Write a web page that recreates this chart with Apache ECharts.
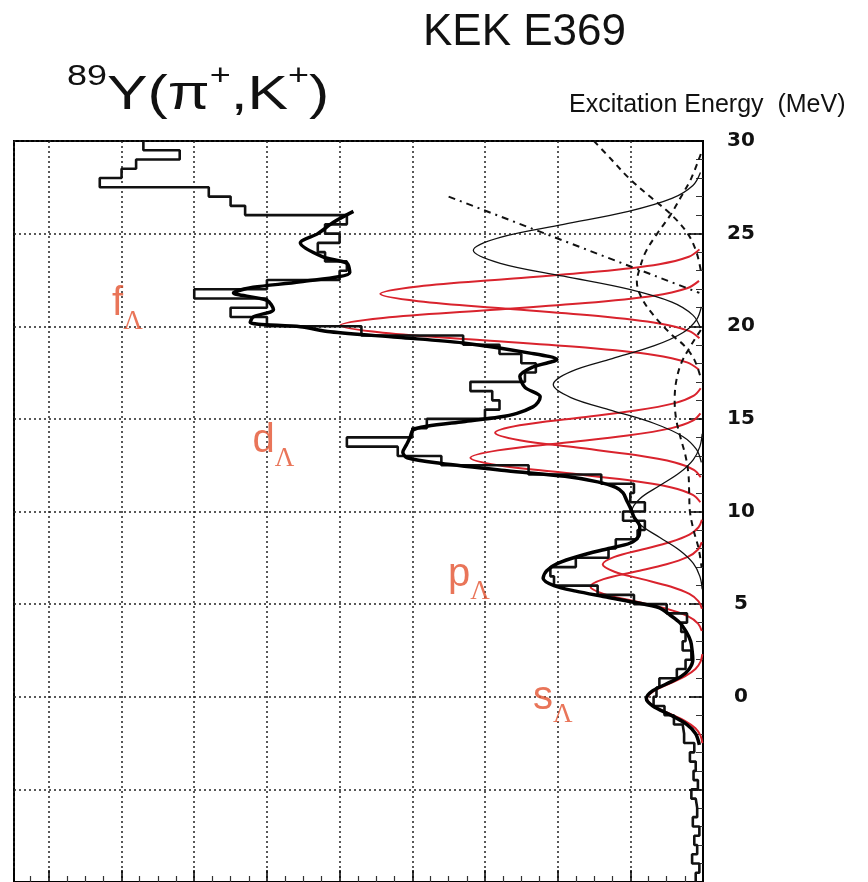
<!DOCTYPE html>
<html>
<head>
<meta charset="utf-8">
<script src="https://cdn.jsdelivr.net/npm/echarts@6/dist/echarts.min.js"></script>
<style>
  html, body { margin: 0; padding: 0; background: #fff; }
  #chart { width: 868px; height: 882px; }
</style>
</head>
<body>
<div id="chart"></div>
<script>
// ---- 89Y(pi+,K+) hypernuclear spectrum, drawn sideways: energy up, counts to the left ----

// energy axis tick labels (MeV)
const energyTicks = [0, 5, 10, 15, 20, 25, 30];

// histogram: 0.5 MeV bins starting at -10 MeV
const binLow = -10;
const binWidth = 0.5;
const histCounts = [
  1.0, 0.5, 1.5, 0.8, 1.2, 0.5, 1.4, 0.8, 1.0, 1.6,
  0.7, 1.3, 1.0, 1.8, 1.2, 2.6, 2.8, 4.0, 5.3, 6.8,
  6.4, 6.0, 3.6, 2.4, 1.6, 2.8, 2.4, 3.0, 2.2, 5.0,
  9.5, 14.5, 20.5, 21.0, 17.5, 13.0, 12.0, 9.0, 8.0, 11.0,
  8.0, 10.0, 9.5, 14.0, 24.0, 36.0, 42.0, 49.0, 40.0, 38.0,
  30.0, 28.0, 29.0, 32.0, 24.5, 23.0, 25.0, 28.0, 33.0, 47.0,
  60.0, 65.0, 60.0, 70.0, 60.0, 50.0, 49.0, 52.0, 53.0, 50.0,
  52.0, 49.0, 63.0, 65.0, 68.0, 83.0, 80.0, 78.0, 72.0, 77.0
];

// total fit: [energy, counts]
const fitTotal = [
  [-2.6, 0.5], [-2.0, 1.0], [-1.5, 2.2], [-1.0, 4.4], [-0.5, 6.9], [-0.1, 7.8],
  [0.3, 7.0], [0.7, 5.0], [1.1, 3.0], [1.5, 1.9], [2.0, 1.4], [2.5, 1.5],
  [3.0, 1.7], [3.5, 2.3], [4.0, 3.2], [4.4, 4.5], [4.8, 6.0], [5.1, 9.5],
  [5.4, 13.5], [5.7, 17.5], [6.0, 20.5], [6.4, 22.0], [6.8, 21.5], [7.2, 20.0],
  [7.6, 17.0], [8.0, 13.0], [8.3, 10.0], [8.7, 8.8], [9.2, 8.7], [9.7, 9.5],
  [10.2, 10.0], [10.6, 10.5], [11.0, 11.0], [11.3, 12.0], [11.6, 14.5], [11.9, 19.0],
  [12.2, 27.0], [12.6, 36.2], [12.9, 40.7], [13.2, 41.3], [13.6, 40.8], [14.0, 40.3],
  [14.4, 39.9], [14.6, 38.0], [14.85, 33.0], [15.1, 28.0], [15.3, 25.6], [15.65, 23.4],
  [15.9, 22.7], [16.2, 22.4], [16.7, 24.5], [17.3, 25.2], [17.8, 23.4], [18.2, 20.1],
  [18.55, 23.8], [19.1, 33.0], [19.4, 42.0], [19.7, 51.3], [19.97, 55.4], [20.2, 62.3],
  [20.5, 61.9], [20.9, 59.1], [21.4, 60.0], [21.8, 64.6], [22.1, 61.9], [22.4, 55.4],
  [22.9, 48.6], [23.4, 49.0], [23.75, 52.3], [24.5, 55.4], [25.0, 53.0], [25.6, 50.9],
  [26.2, 48.1]
];

// Lambda single-particle peaks (s, p, d, f): [energy, counts]
const peakS = [
  [-2.5, 0.09], [-2.1, 0.34], [-1.7, 1.04], [-1.3, 2.5], [-0.9, 4.67], [-0.5, 6.8], [-0.1, 7.7],
  [0.3, 6.8], [0.7, 4.67], [1.1, 2.5], [1.5, 1.04], [1.9, 0.34], [2.3, 0.09]
];
const peakP1 = [
  [3.55, 0.17], [3.95, 0.68], [4.35, 2.1], [4.75, 5.03], [5.15, 9.4], [5.55, 13.68], [5.95, 15.5],
  [6.35, 13.68], [6.75, 9.4], [7.15, 5.03], [7.55, 2.1], [7.95, 0.68], [8.35, 0.17]
];
const peakP2 = [
  [4.75, 0.15], [5.15, 0.61], [5.55, 1.87], [5.95, 4.48], [6.35, 8.37], [6.75, 12.18], [7.15, 13.8],
  [7.55, 12.18], [7.95, 8.37], [8.35, 4.48], [8.75, 1.87], [9.15, 0.61], [9.55, 0.15]
];
const peakD1 = [
  [10.5, 0.36], [10.9, 1.4], [11.3, 4.33], [11.7, 10.39], [12.1, 19.41], [12.5, 28.24], [12.9, 32.0],
  [13.3, 28.24], [13.7, 19.41], [14.1, 10.39], [14.5, 4.33], [14.9, 1.4], [15.3, 0.36]
];
const peakD2 = [
  [11.85, 0.32], [12.25, 1.26], [12.65, 3.87], [13.05, 9.29], [13.45, 17.35], [13.85, 25.24], [14.25, 28.6],
  [14.65, 25.24], [15.05, 17.35], [15.45, 9.29], [15.85, 3.87], [16.25, 1.26], [16.65, 0.32]
];
const peakF1 = [
  [17.65, 0.55], [18.05, 2.19], [18.45, 6.75], [18.85, 16.2], [19.25, 30.26], [19.65, 44.04], [20.05, 49.9],
  [20.45, 44.04], [20.85, 30.26], [21.25, 16.2], [21.65, 6.75], [22.05, 2.19], [22.45, 0.55]
];
const peakF2 = [
  [19.35, 0.49], [19.75, 1.95], [20.15, 6.01], [20.55, 14.42], [20.95, 26.93], [21.35, 39.18], [21.75, 44.4],
  [22.15, 39.18], [22.55, 26.93], [22.95, 14.42], [23.35, 6.01], [23.75, 1.95], [24.15, 0.49]
];

// broader components (thin black)
const broadG1 = [
  [19.9, 0.35], [20.6, 1.39], [21.3, 4.28], [22.0, 10.26], [22.7, 19.17], [23.4, 27.89], [24.1, 31.6],
  [24.8, 27.89], [25.5, 19.17], [26.2, 10.26], [26.9, 4.28], [27.6, 1.39], [28.3, 0.35]
];
const broadG2 = [
  [12.65, 0.23], [13.35, 0.9], [14.05, 2.79], [14.75, 6.69], [15.45, 12.49], [16.15, 18.18], [16.85, 20.6],
  [17.55, 18.18], [18.25, 12.49], [18.95, 6.69], [19.65, 2.79], [20.35, 0.9], [21.05, 0.23]
];
const broadG3 = [
  [5.8, 0.11], [6.5, 0.43], [7.2, 1.33], [7.9, 3.18], [8.6, 5.94], [9.3, 8.65], [10.0, 9.8],
  [10.7, 8.65], [11.4, 5.94], [12.1, 3.18], [12.8, 1.33], [13.5, 0.43], [14.2, 0.11]
];

// dashed components and dash-dotted background
const dashUpper = [
  [30.0, 15.0], [29.0, 12.6], [28.0, 10.2], [27.0, 7.3], [26.0, 4.3], [25.0, 2.1], [24.0, 0.9], [23.0, 0.3]
];
const dashMid = [
  [29.3, 0.3], [28.0, 1.6], [27.0, 3.0], [26.0, 4.5], [25.0, 6.3], [24.0, 7.9], [23.0, 8.8],
  [22.4, 9.1], [21.5, 8.4], [20.5, 6.6], [19.5, 4.2], [19.0, 2.7], [18.2, 1.2], [17.2, 0.3]
];
const dashLow = [
  [19.8, 0.3], [19.0, 1.6], [18.0, 3.0], [17.0, 3.7], [16.0, 3.9], [15.0, 3.7], [14.0, 3.1],
  [13.0, 2.4], [12.0, 2.0], [11.0, 1.9], [10.0, 1.8], [9.0, 1.3], [8.0, 0.6], [7.0, 0.2]
];
const background = [[27.0, 35.0], [21.8, 0.5]];

// shell labels: [counts, energy, orbital letter]
const shellTags = [
  [81.3, 20.9, 'f'],
  [62.0, 13.5, 'd'],
  [35.1, 6.3, 'p'],
  [23.4, -0.35, 's']
];

// ---- build series ----
const RED = '#d9232d';
const LABEL_RED = '#e4532f';

function toXY(pts) { return pts.map(p => [p[1], p[0]]); }

function curve(pts, color, width, type, z, smooth) {
  return {
    type: 'line', data: toXY(pts), smooth: smooth === undefined ? 0.35 : smooth,
    showSymbol: false, silent: true, z: z,
    lineStyle: { color: color, width: width, type: type || 'solid' }
  };
}

const histPath = [];
histCounts.forEach((c, i) => {
  const lo = binLow + i * binWidth;
  histPath.push([c, lo], [c, lo + binWidth]);
});

const series = [];
[peakS, peakP1, peakP2, peakD1, peakD2, peakF1, peakF2].forEach(p => series.push(curve(p, RED, 2, 'solid', 3)));
[broadG1, broadG2, broadG3].forEach(p => series.push(curve(p, '#111', 1.3, 'solid', 3)));
[dashUpper, dashMid, dashLow].forEach(p => series.push(curve(p, '#111', 2, [6, 5], 3)));
series.push(curve(background, '#111', 2, [7, 5, 2, 5], 3, false));
series.push({
  type: 'line', data: histPath, showSymbol: false, silent: true, z: 4,
  lineStyle: { color: '#111', width: 2.6 }
});
series.push(curve(fitTotal, '#000', 3.5, 'solid', 5, 0.3));
series.push({
  type: 'scatter', symbolSize: 0, silent: true, z: 6,
  data: shellTags.map(t => ({ value: [t[0], t[1]], name: t[2] })),
  label: {
    show: true, position: 'right', distance: 0,
    formatter: p => '{m|' + p.name + '}{s|Λ}',
    rich: {
      m: { fontFamily: 'Liberation Sans', fontSize: 40, color: LABEL_RED, verticalAlign: 'top', lineHeight: 51 },
      s: { fontFamily: 'Liberation Serif', fontSize: 27, color: LABEL_RED, verticalAlign: 'bottom', lineHeight: 27 }
    }
  }
});

const chart = echarts.init(document.getElementById('chart'), null, { renderer: 'canvas' });
chart.setOption({
  animation: false,
  backgroundColor: '#fff',
  title: [
    {
      text: 'KEK E369', left: 418, top: 6,
      textStyle: { fontFamily: 'Liberation Sans', fontSize: 44, fontWeight: 'normal', color: '#111' }
    },
    {
      text: 'Excitation Energy  (MeV)', left: 564, top: 88,
      textStyle: { fontFamily: 'Liberation Sans', fontSize: 25, fontWeight: 'normal', color: '#111' }
    }
  ],
  graphic: [
    {
      type: 'text', x: 67, y: 62, scaleX: 1.24, scaleY: 1, silent: true,
      style: {
        text: '{sup|89}{m|Y(π}{sup|+}{m|,K}{sup|+}{m|)}',
        align: 'left', verticalAlign: 'top',
        rich: {
          m: { fontFamily: 'Liberation Sans', fontSize: 49, fontWeight: 'normal', fill: '#111', verticalAlign: 'bottom', lineHeight: 58 },
          sup: { fontFamily: 'Liberation Sans', fontSize: 29, fontWeight: 'normal', fill: '#111', verticalAlign: 'top', lineHeight: 30 }
        }
      }
    }
  ],
  grid: {
    left: 14, right: 165, top: 141, bottom: 0,
    show: true, borderColor: '#000', borderWidth: 2, backgroundColor: 'transparent'
  },
  xAxis: {
    type: 'value', inverse: true, min: 0, max: 94.8, interval: 10,
    axisLine: { show: true, onZero: false, lineStyle: { color: '#000', width: 2 } },
    axisTick: { show: true, inside: true, length: 12, lineStyle: { color: '#000', width: 1.5 } },
    minorTick: { show: true, splitNumber: 4, length: 6, lineStyle: { color: '#333', width: 1.2 } },
    axisLabel: { show: false },
    splitLine: { show: true, lineStyle: { color: '#222', width: 1.5, type: [2, 3] } }
  },
  yAxis: {
    type: 'value', position: 'right', min: -10, max: 30, interval: 5,
    axisLine: { show: true, onZero: false, lineStyle: { color: '#000', width: 2 } },
    axisTick: { show: true, inside: true, length: 14, lineStyle: { color: '#000', width: 1.5 } },
    minorTick: { show: true, splitNumber: 5, length: 7, lineStyle: { color: '#333', width: 1 } },
    axisLabel: {
      show: true, margin: 38, align: 'center',
      fontFamily: 'DejaVu Sans', fontWeight: 'bold', fontSize: 20, color: '#111',
      formatter: v => energyTicks.indexOf(v) >= 0 ? String(v) : ''
    },
    splitLine: { show: true, lineStyle: { color: '#222', width: 1.5, type: [2, 3] } }
  },
  series: series
});
</script>
</body>
</html>
